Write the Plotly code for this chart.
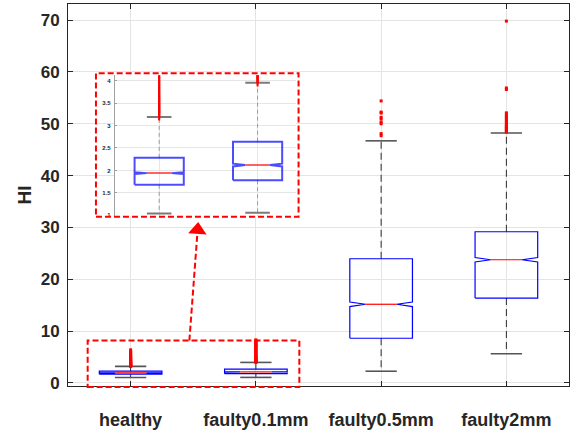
import plotly.graph_objects as go

# ---- data -----------------------------------------------------------------
categories = ["healthy", "faulty0.1mm", "faulty0.5mm", "faulty2mm"]
positions = [1, 2, 3, 4]
q1 = [1.68, 1.78, 8.61, 16.37]
median = [1.94, 2.12, 15.17, 23.76]
q3 = [2.28, 2.64, 23.95, 29.16]
whisker_low = [1.04, 1.06, 2.25, 5.63]
whisker_high = [3.19, 3.95, 46.7, 48.2]
notch_half = [0.02, 0.03, 0.44, 0.42]

outliers_healthy = [3.22, 3.26, 3.3, 3.35, 3.4, 3.45, 3.5, 3.56, 3.62, 3.68,
                    3.75, 3.82, 3.9, 3.98, 4.06, 4.15, 4.25, 4.35, 4.46, 4.58,
                    4.7, 4.83, 4.97, 5.12, 5.3, 5.5, 5.62, 5.88, 6.02, 6.38]
outliers_faulty01 = [3.98, 4.03, 4.08, 4.14, 4.2, 4.27, 4.34, 4.42, 4.5, 4.6,
                     4.7, 4.8, 4.92, 5.05, 5.18, 5.3, 5.45, 5.6, 5.75, 5.9,
                     6.05, 6.2, 6.35, 6.5, 6.65, 6.8, 6.95, 7.1, 7.25, 7.4,
                     7.55, 7.7, 7.85, 8.0, 8.15, 8.3]
outliers_faulty05 = [47.7, 48.1, 50.0, 50.3, 50.9, 51.24, 52.06, 52.25, 54.4]
outliers_faulty2 = [48.4, 48.6, 48.8, 49.0, 49.2, 49.4, 49.6, 49.9, 50.2, 50.5,
                    50.8, 51.1, 51.4, 51.7, 52.1, 56.6, 56.9, 69.8]
outlier_lists = [outliers_healthy, outliers_faulty01, outliers_faulty05, outliers_faulty2]

# axis ranges
x_range = [0.5, 4.5]
y_range = [-0.6, 73.1]
inset_x_range = [0.55, 2.39]
inset_y_range = [0.99, 4.12]

BOX_HALF = 0.25
NOTCH_HALF_W = 0.125
CAP_HALF = 0.125

FONT = "Liberation Sans, Arial, Helvetica, sans-serif"
TXT = "#262626"

main_style = dict(box=dict(color="#0000ff", width=1.2),
                  med=dict(color="#ff0000", width=1.2),
                  whisk=dict(color="#2a2a2a", width=1, dash="7px,4px"),
                  cap=dict(color="#555555", width=1.6),
                  out=dict(symbol="square", size=3, color="#ff0000",
                           line=dict(width=0)))
inset_style = dict(box=dict(color="rgba(0,0,255,0.7)", width=2),
                   med=dict(color="rgba(255,70,70,0.85)", width=2),
                   whisk=dict(color="#9a9a9a", width=1, dash="4px,3px"),
                   cap=dict(color="#7a7a7a", width=2),
                   out=dict(symbol="line-ns", size=7,
                            line=dict(color="#ff0000", width=2)))

fig = go.Figure()


def add_box(i, xa, ya, st):
    c = positions[i]
    lo, hi = whisker_low[i], whisker_high[i]
    a, m, b, n = q1[i], median[i], q3[i], notch_half[i]
    # whiskers
    fig.add_trace(go.Scatter(x=[c, c, None, c, c], y=[b, hi, None, a, lo],
                             mode="lines", line=st["whisk"], xaxis=xa, yaxis=ya,
                             hoverinfo="skip", showlegend=False))
    # notched box outline
    xs = [c - BOX_HALF, c - BOX_HALF, c - NOTCH_HALF_W, c - BOX_HALF, c - BOX_HALF,
          c + BOX_HALF, c + BOX_HALF, c + NOTCH_HALF_W, c + BOX_HALF, c + BOX_HALF,
          c - BOX_HALF]
    ys = [a, m - n, m, m + n, b, b, m + n, m, m - n, a, a]
    fig.add_trace(go.Scatter(x=xs, y=ys, mode="lines", line=st["box"],
                             xaxis=xa, yaxis=ya, hoverinfo="skip", showlegend=False))
    # median
    fig.add_trace(go.Scatter(x=[c - NOTCH_HALF_W, c + NOTCH_HALF_W], y=[m, m],
                             mode="lines", line=st["med"], xaxis=xa, yaxis=ya,
                             hoverinfo="skip", showlegend=False))
    # caps
    fig.add_trace(go.Scatter(x=[c - CAP_HALF, c + CAP_HALF, None, c - CAP_HALF, c + CAP_HALF],
                             y=[hi, hi, None, lo, lo], mode="lines", line=st["cap"],
                             xaxis=xa, yaxis=ya, hoverinfo="skip", showlegend=False))
    # outliers
    ol = outlier_lists[i]
    fig.add_trace(go.Scatter(x=[c] * len(ol), y=ol, mode="markers",
                             marker=st["out"], xaxis=xa, yaxis=ya,
                             hoverinfo="skip", showlegend=False))


for i in range(len(categories)):
    add_box(i, "x", "y", main_style)
for i in range(2):
    add_box(i, "x2", "y2", inset_style)

# ---- zoom call-out --------------------------------------------------------
def to_px(v, r):
    return (v - r[0]) / (r[1] - r[0])

zoom_x = [0.657, 2.347]
zoom_y = [-0.8, 8.17]
arrow_tail = (1.469, 8.17)
arrow_head = (1.535, 29.5)
inset_frame_x = [0.0558, 0.4602]
inset_frame_y = [0.443, 0.8187]

red_dash = dict(color="#ff0000", width=2, dash="6px,3px")
shapes = [
    dict(type="rect", xref="paper", yref="paper",
         x0=to_px(zoom_x[0], x_range), x1=to_px(zoom_x[1], x_range),
         y0=to_px(zoom_y[0], y_range), y1=to_px(zoom_y[1], y_range),
         line=red_dash, layer="above"),
    dict(type="rect", xref="paper", yref="paper",
         x0=inset_frame_x[0], x1=inset_frame_x[1],
         y0=inset_frame_y[0], y1=inset_frame_y[1],
         line=red_dash, layer="above"),
    dict(type="line", xref="paper", yref="paper",
         x0=to_px(arrow_tail[0], x_range), y0=to_px(arrow_tail[1], y_range),
         x1=to_px(arrow_head[0], x_range), y1=to_px(arrow_head[1], y_range),
         line=red_dash, layer="above"),
]
fig.add_trace(go.Scatter(x=[arrow_head[0]], y=[arrow_head[1]], mode="markers",
                         marker=dict(symbol="triangle-up", size=16, color="#ff0000",
                                     angle=4), hoverinfo="skip", showlegend=False))

axis_common = dict(showline=True, linecolor=TXT, linewidth=1, mirror="ticks",
                   ticks="inside", ticklen=5, tickcolor=TXT, showgrid=True,
                   gridcolor="#e4e4e4", gridwidth=1, zeroline=False)

fig.update_layout(
    width=573, height=433,
    margin=dict(l=68, r=3, t=3, b=44),
    paper_bgcolor="white", plot_bgcolor="white",
    showlegend=False,
    shapes=shapes,
    xaxis=dict(range=x_range, tickvals=positions, ticktext=categories,
               tickfont=dict(family=FONT, size=18, color=TXT, weight="bold"),
               ticklabelstandoff=17, **axis_common),
    yaxis=dict(range=y_range, tickvals=[0, 10, 20, 30, 40, 50, 60, 70],
               tickfont=dict(family=FONT, size=17, color=TXT, weight="bold"),
               ticklabelstandoff=4,
               title=dict(text="HI", standoff=4,
                          font=dict(family=FONT, size=19, color=TXT, weight="bold")),
               **axis_common),
    xaxis2=dict(domain=[0.0936, 0.455], anchor="y2", range=inset_x_range,
                tickvals=[1, 2], showticklabels=False, showline=False,
                ticks="", showgrid=True, gridcolor="#e6e6e6", zeroline=False),
    yaxis2=dict(domain=[0.4456, 0.8135], anchor="x2", range=inset_y_range,
                tickvals=[1, 1.5, 2, 2.5, 3, 3.5, 4],
                ticktext=["1", "1.5", "2", "2.5", "3", "3.5", "4"],
                tickfont=dict(family=FONT, size=6, color=TXT, weight="bold"),
                showline=True, linecolor="#a0a0a0", ticks="inside", ticklen=2,
                tickcolor="#a0a0a0", ticklabelstandoff=2,
                showgrid=True, gridcolor="#e6e6e6", zeroline=False),
)

fig.write_html("out.html")
